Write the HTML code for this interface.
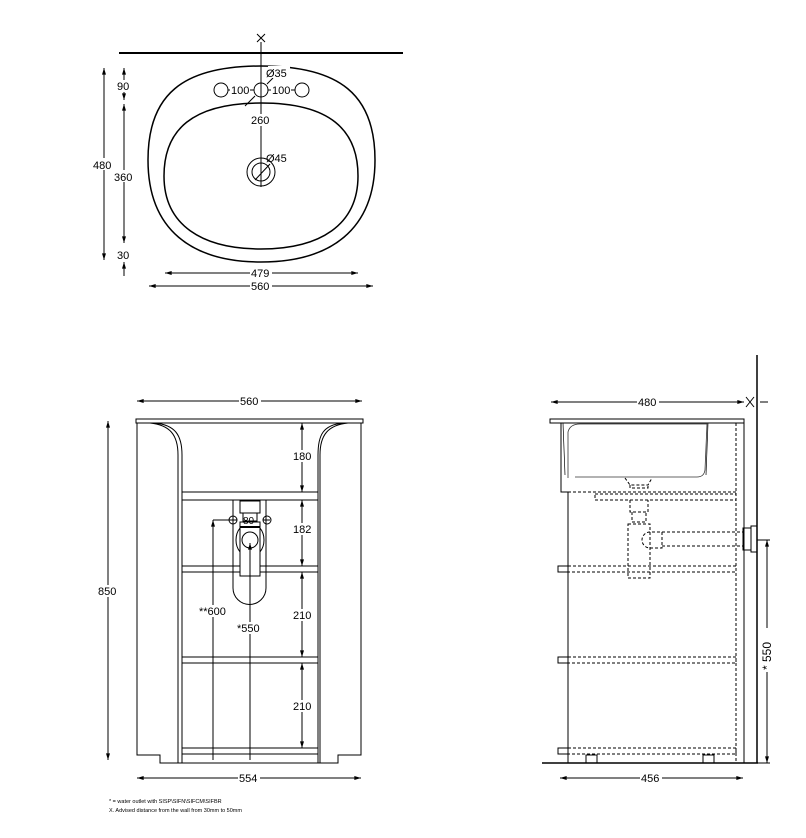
<!DOCTYPE html>
<html><head><meta charset="utf-8"><style>
html,body{margin:0;padding:0;background:#fff;}
svg{display:block;}
text{font-family:"Liberation Sans",sans-serif;font-size:11px;fill:#000;}
</style></head><body>
<svg width="806" height="838" viewBox="0 0 806 838" xmlns="http://www.w3.org/2000/svg">
<defs>
<marker id="a" viewBox="0 0 10 6" refX="10" refY="3" markerWidth="8" markerHeight="4" orient="auto-start-reverse"><path d="M0,0 L10,3 L0,6 z" fill="#000"/></marker>
</defs>
<g fill="none" stroke="#000" stroke-width="1">
<!-- TOP VIEW -->
<line x1="119" y1="53" x2="403" y2="53" stroke-width="2"/>
<path d="M257,34 L265,42 M265,34 L257,42"/>
<line x1="261" y1="42" x2="261" y2="187"/>
<path d="M261,66 C340,66 375,95 375,160 C375,230 330,262 261,262 C192,262 148,230 148,160 C148,95 182,66 261,66 Z" stroke-width="1.5"/>
<path d="M261,103 C330,103 358,130 358,176 C358,225 320,249 261,249 C202,249 164,225 164,176 C164,130 192,103 261,103 Z" stroke-width="1.5"/>
<circle cx="221" cy="90" r="7"/><circle cx="261" cy="90" r="7"/><circle cx="302" cy="90" r="7"/>
<line x1="228" y1="90" x2="254" y2="90"/><line x1="268" y1="90" x2="295" y2="90"/>
<line x1="245" y1="106" x2="255" y2="96"/><line x1="267" y1="84" x2="273" y2="78"/>
<circle cx="261" cy="172" r="14"/><circle cx="261" cy="172" r="9"/>
<line x1="255" y1="180" x2="270" y2="164"/>
<line x1="104" y1="68" x2="104" y2="260" marker-start="url(#a)" marker-end="url(#a)"/>
<line x1="124" y1="68" x2="124" y2="100" marker-start="url(#a)" marker-end="url(#a)"/>
<line x1="124" y1="104" x2="124" y2="243" marker-start="url(#a)" marker-end="url(#a)"/>
<line x1="124" y1="262" x2="124" y2="276" marker-start="url(#a)"/>
<line x1="165" y1="273" x2="358" y2="273" marker-start="url(#a)" marker-end="url(#a)"/>
<line x1="149" y1="286" x2="373" y2="286" marker-start="url(#a)" marker-end="url(#a)"/>

<!-- FRONT VIEW -->
<line x1="137" y1="401" x2="362" y2="401" marker-start="url(#a)" marker-end="url(#a)"/>
<rect x="136" y="419" width="227" height="4"/>
<path d="M137,423 L137,755 L160,755 L160,763 L338,763 L338,755 L361,755 L361,423"/>
<path d="M150,423 C170,425 178,435 178,455 L178,763 M155,423 C175,425 182,435 182,455 L182,763"/>
<path d="M348,423 C328,425 320,435 320,455 L320,763 M343,423 C323,425 318,435 318,455 L318,763"/>
<rect x="182" y="492" width="136" height="8"/>
<rect x="182" y="566" width="136" height="6"/>
<rect x="182" y="657" width="136" height="6"/>
<rect x="182" y="748" width="136" height="6"/>
<line x1="302" y1="423" x2="302" y2="492" marker-start="url(#a)" marker-end="url(#a)"/>
<line x1="302" y1="500" x2="302" y2="566" marker-start="url(#a)" marker-end="url(#a)"/>
<line x1="302" y1="572" x2="302" y2="657" marker-start="url(#a)" marker-end="url(#a)"/>
<line x1="302" y1="663" x2="302" y2="748" marker-start="url(#a)" marker-end="url(#a)"/>
<path d="M233,500 L233,588 A16.5,16.5 0 0 0 266,588 L266,500"/>
<rect x="240" y="501" width="20" height="12"/>
<rect x="243" y="513" width="14" height="8"/>
<circle cx="233" cy="520" r="4"/><circle cx="267" cy="520" r="4"/>
<line x1="213" y1="520" x2="237" y2="520"/><line x1="263" y1="520" x2="270" y2="520"/>
<ellipse cx="250" cy="540" rx="14" ry="17"/>
<rect x="240" y="522" width="20" height="54" fill="#fff"/>
<line x1="240" y1="527" x2="260" y2="527" stroke-width="2"/>
<circle cx="250" cy="540" r="8"/>
<line x1="213" y1="520" x2="213" y2="760" marker-start="url(#a)"/>
<line x1="250" y1="543" x2="250" y2="760" marker-start="url(#a)"/>
<line x1="108" y1="421" x2="108" y2="760" marker-start="url(#a)" marker-end="url(#a)"/>
<line x1="137" y1="778" x2="361" y2="778" marker-start="url(#a)" marker-end="url(#a)"/>

<!-- SIDE VIEW -->
<line x1="757" y1="355" x2="757" y2="763" stroke-width="1.5"/>
<line x1="542" y1="763" x2="758" y2="763" stroke-width="1.5"/>
<line x1="551" y1="402" x2="744" y2="402" marker-start="url(#a)" marker-end="url(#a)"/>
<path d="M746,397 L754,407 M754,397 L746,407"/>
<line x1="760" y1="402" x2="768" y2="402"/>
<path d="M550,419 L744,419 L744,423 L550,423 Z"/>
<path d="M744,423 L744,763"/>
<path d="M561,423 L561,492 L568,492 M568,492 L568,763"/>
<path d="M736,423 L736,763" stroke-dasharray="3,2"/>
<path d="M563,423 L565,475 M708,423 L706,475" stroke-width="0.7"/>
<path d="M568,478 L568,432 Q570,424 580,424 L707,424 L705,470 Q704,477 697,477 L575,477" stroke-width="0.8" stroke="#333"/>
<path d="M625,478 L630,485 L648,485 L652,478 M630,485 L630,488 L648,488 L648,485" stroke-dasharray="3,2"/>
<line x1="568" y1="492" x2="736" y2="492" stroke-dasharray="3,2"/>
<rect x="595" y="494" width="141" height="6" stroke-dasharray="3,2"/>
<path d="M630,500 L630,512 L648,512 L648,500 M632,512 L632,522 L646,522 L646,512" stroke-dasharray="3,2"/>
<rect x="628" y="524" width="22" height="54" stroke-dasharray="3,2"/>
<path d="M650,532 A8,8 0 0 0 650,548 L662,548 L662,532 Z" stroke-dasharray="3,2"/>
<path d="M662,532 L743,532 M662,546 L743,546" stroke-dasharray="3,2"/>
<rect x="743" y="528" width="8" height="22"/>
<rect x="751" y="526" width="6" height="26"/>
<rect x="558" y="566" width="10" height="6"/><rect x="568" y="566" width="168" height="6" stroke-dasharray="3,2"/>
<rect x="558" y="657" width="10" height="6"/><rect x="568" y="657" width="168" height="6" stroke-dasharray="3,2"/>
<rect x="558" y="748" width="10" height="6"/><rect x="568" y="748" width="168" height="6" stroke-dasharray="3,2"/>
<rect x="586" y="755" width="11" height="8"/><rect x="703" y="755" width="11" height="8"/>
<line x1="757" y1="540" x2="770" y2="540"/><line x1="757" y1="763" x2="770" y2="763"/>
<line x1="767" y1="540" x2="767" y2="763" marker-start="url(#a)" marker-end="url(#a)"/>
<line x1="560" y1="778" x2="743" y2="778" marker-start="url(#a)" marker-end="url(#a)"/>
</g>
<g>
<rect x="268" y="66" width="22" height="12" fill="#fff"/>
<text x="266" y="77">Ø35</text>
<rect x="230" y="84" width="20" height="12" fill="#fff"/><text x="231" y="94">100</text>
<rect x="271" y="84" width="20" height="12" fill="#fff"/><text x="272" y="94">100</text>
<rect x="251" y="114" width="22" height="12" fill="#fff"/><text x="251" y="124">260</text>
<text x="266" y="162">Ø45</text>
<rect x="93" y="158" width="20" height="12" fill="#fff"/><text x="93" y="169">480</text>
<rect x="116" y="80" width="16" height="12" fill="#fff"/><text x="117" y="90">90</text>
<rect x="113" y="170" width="22" height="12" fill="#fff"/><text x="114" y="181">360</text>
<rect x="116" y="249" width="16" height="12" fill="#fff"/><text x="117" y="259">30</text>
<rect x="250" y="268" width="22" height="11" fill="#fff"/><text x="251" y="277">479</text>
<rect x="250" y="281" width="22" height="11" fill="#fff"/><text x="251" y="290">560</text>

<rect x="239" y="396" width="22" height="11" fill="#fff"/><text x="240" y="405">560</text>
<rect x="292" y="450" width="22" height="12" fill="#fff"/><text x="293" y="460">180</text>
<rect x="292" y="523" width="22" height="12" fill="#fff"/><text x="293" y="533">182</text>
<rect x="292" y="609" width="22" height="12" fill="#fff"/><text x="293" y="619">210</text>
<rect x="292" y="700" width="22" height="12" fill="#fff"/><text x="293" y="710">210</text>
<text x="243" y="524" style="font-size:10px">80</text>
<rect x="98" y="585" width="22" height="12" fill="#fff"/><text x="98" y="595">850</text>
<rect x="200" y="605" width="28" height="12" fill="#fff"/><text x="199" y="615">**600</text>
<rect x="238" y="622" width="26" height="12" fill="#fff"/><text x="237" y="632">*550</text>
<rect x="238" y="773" width="22" height="11" fill="#fff"/><text x="239" y="782">554</text>
<rect x="637" y="397" width="22" height="11" fill="#fff"/><text x="638" y="406">480</text>
<rect x="640" y="773" width="22" height="11" fill="#fff"/><text x="641" y="782">456</text>
<rect x="761" y="628" width="12" height="44" fill="#fff"/>
<text transform="translate(771,670) rotate(-90)" style="font-size:12px">* 550</text>
<text x="109" y="803" style="font-size:5.5px">* = water outlet with SISP\SIFN\SIFCM\SIFBR</text>
<text x="109" y="812" style="font-size:5.5px">X. Advised distance from the wall from 30mm to 50mm</text>
</g>
</svg>
</body></html>
